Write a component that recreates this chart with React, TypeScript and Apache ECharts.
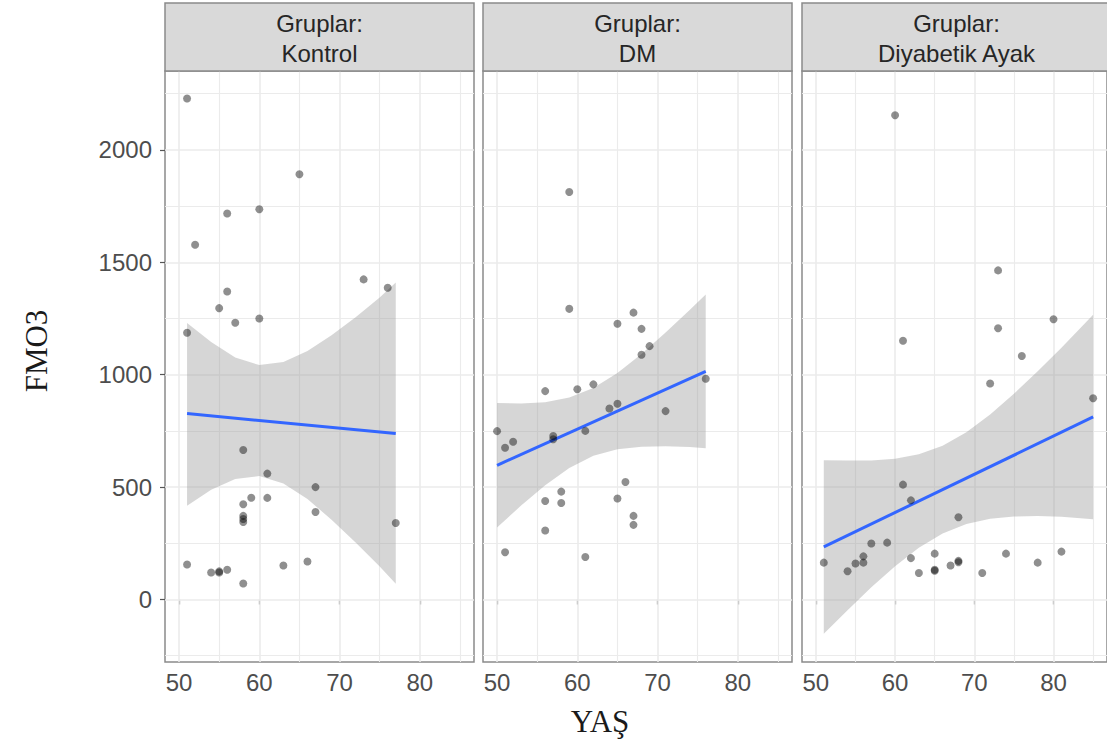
import React, { useEffect, useRef } from "react";
import * as echarts from "echarts";

// ---------- data ----------
const panelTitles = ["Gruplar:\nKontrol", "Gruplar:\nDM", "Gruplar:\nDiyabetik Ayak"];

const kontrolAge = [51, 65, 56, 60, 52, 73, 76, 56, 55, 57, 60, 51, 58, 61, 67, 59, 61, 58, 67, 58, 58, 58, 77, 51, 54, 55, 55, 56, 63, 66, 58];
const kontrolFmo3 = [2229, 1892, 1717, 1736, 1578, 1424, 1387, 1370, 1296, 1231, 1250, 1187, 665, 560, 500, 453, 452, 424, 389, 372, 358, 345, 340, 156, 120, 125, 120, 132, 151, 169, 71];

const dmAge = [59, 59, 67, 65, 68, 69, 68, 76, 56, 60, 62, 64, 65, 71, 50, 51, 52, 57, 57, 61, 66, 58, 56, 58, 65, 67, 67, 56, 51, 61];
const dmFmo3 = [1813, 1293, 1276, 1227, 1204, 1127, 1089, 982, 927, 935, 957, 850, 871, 838, 749, 675, 702, 727, 713, 750, 523, 480, 438, 429, 449, 372, 332, 307, 210, 189];

const daAge = [60, 73, 61, 73, 80, 76, 72, 85, 61, 62, 68, 57, 59, 51, 54, 55, 56, 56, 62, 63, 65, 65, 65, 67, 68, 68, 71, 74, 78, 81];
const daFmo3 = [2154, 1464, 1151, 1207, 1247, 1083, 961, 895, 511, 441, 366, 249, 253, 164, 126, 160, 192, 164, 184, 118, 204, 132, 128, 151, 172, 166, 118, 204, 164, 213];

// fitted lines (end points)
const kontrolFitX = [51, 77];
const kontrolFitY = [827, 738];
const dmFitX = [50, 76];
const dmFitY = [597, 1015];
const daFitX = [51, 85];
const daFitY = [234, 812];

// confidence bands (read at several ages)
const kontrolBandX = [51, 54, 57, 60, 63, 66, 69, 72, 75, 77];
const kontrolBandLow = [417, 488, 536, 549, 516, 447, 355, 254, 147, 70];
const kontrolBandHigh = [1230, 1146, 1076, 1043, 1056, 1105, 1175, 1256, 1343, 1410];

const dmBandX = [50, 53, 56, 59, 62, 65, 68, 71, 74, 76];
const dmBandLow = [320, 418, 508, 585, 639, 668, 680, 682, 678, 673];
const dmBandHigh = [874, 872, 878, 899, 941, 1008, 1092, 1188, 1288, 1357];

const daBandX = [51, 54, 57, 60, 63, 66, 69, 72, 75, 78, 81, 85];
const daBandLow = [-152, -48, 54, 148, 230, 294, 336, 359, 369, 371, 368, 357];
const daBandHigh = [620, 618, 618, 626, 646, 684, 744, 823, 915, 1015, 1120, 1267];

const xTicks = [50, 60, 70, 80];
const xMinorTicks = [55, 65, 75, 85];
const yTicks = [0, 500, 1000, 1500, 2000];
const yMinorTicks = [-250, 250, 750, 1250, 1750, 2250];

// ---------- layout ----------
const X_MIN = 48.25;
const X_MAX = 86.75;
const Y_MIN = -278;
const Y_MAX = 2351;
const PANEL_LEFT = [165, 483, 802];
const PANEL_W = 309;
const PANEL_TOP = 71;
const PANEL_H = 591;
const STRIP_TOP = 3;
const STRIP_H = 68;

const GRID_COLOR = "#ebebeb";
const BORDER_COLOR = "#8a8a8a";
const AXIS_TEXT = "#4d4d4d";
const SANS = '"Liberation Sans", Arial, sans-serif';
const SERIF = '"Liberation Serif", "Times New Roman", serif';

const panels = [
  { age: kontrolAge, val: kontrolFmo3, fx: kontrolFitX, fy: kontrolFitY, bx: kontrolBandX, bl: kontrolBandLow, bh: kontrolBandHigh },
  { age: dmAge, val: dmFmo3, fx: dmFitX, fy: dmFitY, bx: dmBandX, bl: dmBandLow, bh: dmBandHigh },
  { age: daAge, val: daFmo3, fx: daFitX, fy: daFitY, bx: daBandX, bl: daBandLow, bh: daBandHigh },
];

function buildOption() {
  const grid: any[] = [];
  const xAxis: any[] = [];
  const yAxis: any[] = [];
  const series: any[] = [];
  const graphic: any[] = [];

  panels.forEach((p, i) => {
    grid.push({
      left: PANEL_LEFT[i],
      top: PANEL_TOP,
      width: PANEL_W,
      height: PANEL_H,
      show: true,
      backgroundColor: "#ffffff",
      borderColor: BORDER_COLOR,
      borderWidth: 1.5,
      containLabel: false,
    });
    xAxis.push({
      type: "value",
      gridIndex: i,
      min: X_MIN,
      max: X_MAX,
      axisLine: { show: false },
      splitLine: { show: false },
      axisTick: { show: true, length: 5, customValues: xTicks, lineStyle: { color: "#555", width: 1.2 } },
      axisLabel: {
        show: true,
        customValues: xTicks,
        formatter: (v: number) => String(v),
        color: AXIS_TEXT,
        fontSize: 24,
        fontFamily: SANS,
        margin: 8,
      },
    });
    yAxis.push({
      type: "value",
      gridIndex: i,
      min: Y_MIN,
      max: Y_MAX,
      axisLine: { show: false },
      splitLine: { show: false },
      axisTick: { show: i === 0, length: 5, customValues: yTicks, lineStyle: { color: "#555", width: 1.2 } },
      axisLabel: {
        show: i === 0,
        customValues: yTicks,
        formatter: (v: number) => String(v),
        color: AXIS_TEXT,
        fontSize: 24,
        fontFamily: SANS,
        margin: 13,
      },
    });

    // gridlines via markLine (drawn under everything)
    const gl: any[] = [];
    xTicks.forEach((v) => gl.push({ xAxis: v, lineStyle: { width: 1.6 } }));
    xMinorTicks.forEach((v) => gl.push({ xAxis: v, lineStyle: { width: 1.1 } }));
    yTicks.forEach((v) => gl.push({ yAxis: v, lineStyle: { width: 1.6 } }));
    yMinorTicks.forEach((v) => gl.push({ yAxis: v, lineStyle: { width: 1.1 } }));
    series.push({
      type: "line",
      xAxisIndex: i,
      yAxisIndex: i,
      data: [],
      z: 1,
      silent: true,
      markLine: {
        silent: true,
        symbol: ["none", "none"],
        label: { show: false },
        z: 1,
        animation: false,
        lineStyle: { color: GRID_COLOR, type: "solid" },
        data: gl,
      },
    });

    // confidence ribbon
    series.push({
      type: "custom",
      xAxisIndex: i,
      yAxisIndex: i,
      z: 2,
      silent: true,
      data: [[p.bx[0], p.bl[0]]],
      renderItem: (_params: any, api: any) => {
        const pts: number[][] = [];
        for (let k = 0; k < p.bx.length; k++) pts.push(api.coord([p.bx[k], p.bh[k]]));
        for (let k = p.bx.length - 1; k >= 0; k--) pts.push(api.coord([p.bx[k], p.bl[k]]));
        return {
          type: "polygon",
          shape: { points: pts },
          style: { fill: "rgba(153,153,153,0.4)", stroke: "none" },
        };
      },
    });

    // regression line
    series.push({
      type: "line",
      xAxisIndex: i,
      yAxisIndex: i,
      z: 3,
      silent: true,
      symbol: "none",
      data: p.fx.map((x, k) => [x, p.fy[k]]),
      lineStyle: { color: "#3366FF", width: 3 },
    });

    // points
    series.push({
      type: "scatter",
      xAxisIndex: i,
      yAxisIndex: i,
      z: 4,
      silent: true,
      symbol: "circle",
      symbolSize: 8,
      data: p.age.map((x, k) => [x, p.val[k]]),
      itemStyle: { color: "rgba(0,0,0,0.55)", borderWidth: 0 },
    });

    // strip
    graphic.push({
      type: "rect",
      shape: { x: PANEL_LEFT[i], y: STRIP_TOP, width: PANEL_W, height: STRIP_H },
      style: { fill: "#d9d9d9", stroke: BORDER_COLOR, lineWidth: 1.5 },
      z: 10,
    });
    graphic.push({
      type: "text",
      x: PANEL_LEFT[i] + PANEL_W / 2,
      y: STRIP_TOP + STRIP_H / 2 + 1,
      z: 11,
      style: {
        text: panelTitles[i],
        font: `24px ${SANS}`,
        fill: "#262626",
        align: "center",
        verticalAlign: "middle",
        textAlign: "center",
        textVerticalAlign: "middle",
        lineHeight: 30,
      },
    });
  });

  graphic.push({
    type: "text",
    x: 36,
    y: 351,
    rotation: Math.PI / 2,
    z: 11,
    style: {
      text: "FMO3",
      font: `31px ${SERIF}`,
      fill: "#1a1a1a",
      align: "center",
      verticalAlign: "middle",
      textAlign: "center",
      textVerticalAlign: "middle",
    },
  });
  graphic.push({
    type: "text",
    x: 600,
    y: 721,
    z: 11,
    style: {
      text: "YAŞ",
      font: `31px ${SERIF}`,
      fill: "#1a1a1a",
      align: "center",
      verticalAlign: "middle",
      textAlign: "center",
      textVerticalAlign: "middle",
    },
  });

  return {
    animation: false,
    backgroundColor: "#ffffff",
    grid,
    xAxis,
    yAxis,
    series,
    graphic,
  };
}

export default function App() {
  const ref = useRef<HTMLDivElement>(null);
  useEffect(() => {
    if (!ref.current) return;
    const chart = echarts.init(ref.current, undefined, { renderer: "svg" });
    chart.setOption(buildOption() as any);
    return () => chart.dispose();
  }, []);
  return (
    <div
      ref={ref}
      style={{ position: "absolute", left: 0, top: 0, width: 1107, height: 749 }}
    />
  );
}
